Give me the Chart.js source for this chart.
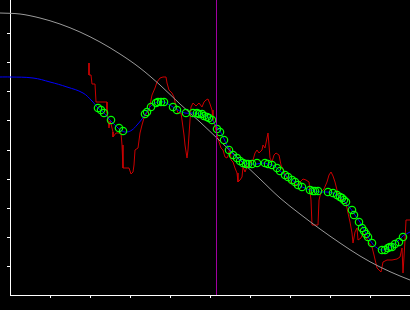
<!DOCTYPE html>
<html>
<head>
<meta charset="utf-8">
<script src="https://cdn.jsdelivr.net/npm/chart.js@4"></script>
<style>
  html, body { margin: 0; padding: 0; background: #000; }
  #wrap { width: 410px; height: 310px; }
</style>
</head>
<body>
<div id="wrap"><canvas id="chart"></canvas></div>
<script>
// ===========================
// Data
// ===========================
// time index 0..100, level 0..295
const priceX = [19.75,19.75,20.25,20.5,21.25,21.5,24.25,24.25,24.5,24.75,25,25.25,25.75,25.75,26.5,27.75,28,28.25,29.75,30.25,30.75,31,31.25,32,32.5,33,33.5,34,34.75,35.5,36.25,36.75,37.5,38.25,39,39.25,39.75,40.5,41,41.5,42,42.75,43,43.5,43.75,44.25,44.5,44.75,45,45.25,45.75,46.5,47.25,48,48.5,49,49.5,50,50.5,50.75,51.25,51.75,52.25,52.75,53.25,53.75,54.25,54.5,55,55.25,55.75,56.25,56.75,57,57.5,58,58.25,58.75,59.25,60,60.75,61.25,61.75,62.25,63,63.25,63.75,64.25,64.5,64.75,65,65.5,66,66.5,67.25,67.75,68.5,69.25,70,71,72,72.5,73.25,74,74.75,75.25,75.5,77,77.25,77.75,78.5,79.25,79.75,80.25,80.75,81.25,81.75,82.25,83,84,84.5,85,85.5,85.75,86.25,86.75,87,87.75,88.25,89,89.75,90.5,91,91.75,92.75,93.25,94.25,95.5,96.75,97.5,98,98.25,98.75,99,100];
const priceY = [232,220,220,211,211,193,193,182,175,167,174,171,163,158,162,162,150,127,127,121,123,130,145,147,162,170,177,181,185,200,207,213,217,218,218,212,205,202,198,188,182,182,175,160,150,137,145,160,175,188,192,189,192,188,193,195,196,191,185,175,169,160,153,147,145,138,137,139,147,135,133,127,122,113,115,118,128,123,128,132,135,142,145,142,145,150,147,157,162,150,137,133,140,142,140,130,123,117,113,111,110,113,116,115,113,95,70,70,95,103,106,113,120,123,119,113,105,98,95,92,82,73,62,52,63,67,55,57,62,58,52,48,40,27,23,33,35,35,36,38,47,22,55,75,75];

const smoothX = [-2.5,0,5.75,10,14.25,18.25,20.5,22,23.25,25,26.75,28,29.25,30.5,31.75,33,34,35,36.25,37.5,38.5,39.5,40.75,42,43.75,45.75,47.5,48.75,50,50.75,51.75,52.5,53.5,54.5,55.5,56.5,57.5,58.75,60,61.75,63.25,64.5,65.5,66.75,67.5,68.75,70,71.25,72.5,73.75,75,76.25,77.5,79.25,80.75,81.75,82.5,83.75,85,85.75,86.75,87.5,88.25,89.25,90.5,91.75,93,94.25,95.5,97,98.25,100];
const smoothY = [218,218,217,213,208,202,194,187,183,175,168,164,163,165,170,176,182,188,192,193,193,191,188,185,182,182,181,179,177,174,168,164,156,148,142,138,135,132,131,131,132,131,130,127,124,120,116,113,109,107,105,104,103,103,102,100,98,93,87,83,77,73,67,60,52,47,45,46,49,54,59,63];

const sampleX = [22,22.75,23.5,25.25,27.25,28.25,33.75,34.25,35.25,36.5,37,37.75,38.5,40.75,41.75,44,45.75,46.75,47.25,48,48.5,49.25,49.75,50.5,51.75,52.5,53.5,54.75,55.75,56.75,57.5,58.25,59,59.5,60.5,61.75,63.75,64.5,65.5,66.75,67.5,68.75,69.5,70.5,71.25,72,73,75,75.75,76.25,77,79.5,80.75,81.75,82.5,83,83.5,84,85.5,86,87.25,88,88.5,89,89.5,90.5,93,93.75,94.5,95,95.5,96.25,97.25,98.25];
const sampleY = [187,185,182,175,167,164,181,183,188,192,193,193,193,188,185,182,182,182,181,181,179,178,177,175,166,163,155,145,140,137,134,132,131,131,131,132,132,131,130,127,124,120,118,115,113,110,108,105,104,104,104,103,102,100,98,97,95,93,85,80,73,67,64,61,58,52,45,45,47,48,48,51,53,58];

const trendX = [-2.5,2.5,7.5,12.5,17.5,22.5,27.5,32.5,37.5,42.5,47.5,52.5,57.5,62.5,67.5,72.5,77.5,82.5,87.5,92.5,97.5,100];
const trendY = [282,281,277,271,263,253,241,227,210,191,173,154,135,116,97,81,66,52,39,28,19,15];

const markerX = 51.625;
const levelMin = 0, levelMax = 295, levelStep = 29;
const timeMin = 0, timeMax = 100, timeStep = 10;

// ===========================
// Build datasets
// ===========================
const pts = (xs, ys) => xs.map((x, i) => ({ x, y: ys[i] }));

const datasets = [
  { // marker line on top
    data: [{ x: markerX, y: levelMin }, { x: markerX, y: levelMax }],
    borderColor: "#a000a0", borderWidth: 1, pointRadius: 0, tension: 0
  },
  {
    data: pts(sampleX, sampleY),
    showLine: false, pointRadius: 3.7, pointBorderWidth: 1.2,
    pointBorderColor: "#00ff00", pointBackgroundColor: "rgba(0,0,0,0)"
  },
  {
    data: pts(smoothX, smoothY),
    borderColor: "#0000ff", borderWidth: 1, pointRadius: 0, tension: 0.4, clip: false
  },
  {
    data: pts(trendX, trendY),
    borderColor: "#9a9a9a", borderWidth: 1, pointRadius: 0,
    cubicInterpolationMode: "monotone", clip: false
  },
  {
    data: pts(priceX, priceY),
    borderColor: "#cc0000", borderWidth: 1, pointRadius: 0, tension: 0
  }
];

// ===========================
// Chart
// ===========================
new Chart(document.getElementById("chart"), {
  type: "line",
  data: { datasets },
  options: {
    responsive: true,
    maintainAspectRatio: false,
    animation: false,
    layout: { padding: 0, autoPadding: false },
    plugins: { legend: { display: false }, tooltip: { enabled: false } },
    scales: {
      x: {
        type: "linear", min: timeMin, max: timeMax,
        ticks: { display: false, stepSize: timeStep, includeBounds: false },
        afterBuildTicks: s => { s.ticks = s.ticks.filter(t => t.value > timeMin && t.value < timeMax); },
        afterFit: s => { s.height = 15; },
        grid: { drawOnChartArea: false, drawTicks: true, tickLength: 3, color: "#fff" },
        border: { display: true, color: "#fff", width: 1 }
      },
      y: {
        type: "linear", min: levelMin, max: levelMax,
        ticks: { display: false, stepSize: levelStep, includeBounds: false },
        afterBuildTicks: s => { s.ticks = s.ticks.filter(t => t.value > levelMin && t.value < 280); },
        afterFit: s => { s.width = 10; },
        grid: { drawOnChartArea: false, drawTicks: true, tickLength: 3, color: "#fff" },
        border: { display: true, color: "#fff", width: 1 }
      }
    }
  }
});
</script>
</body>
</html>
